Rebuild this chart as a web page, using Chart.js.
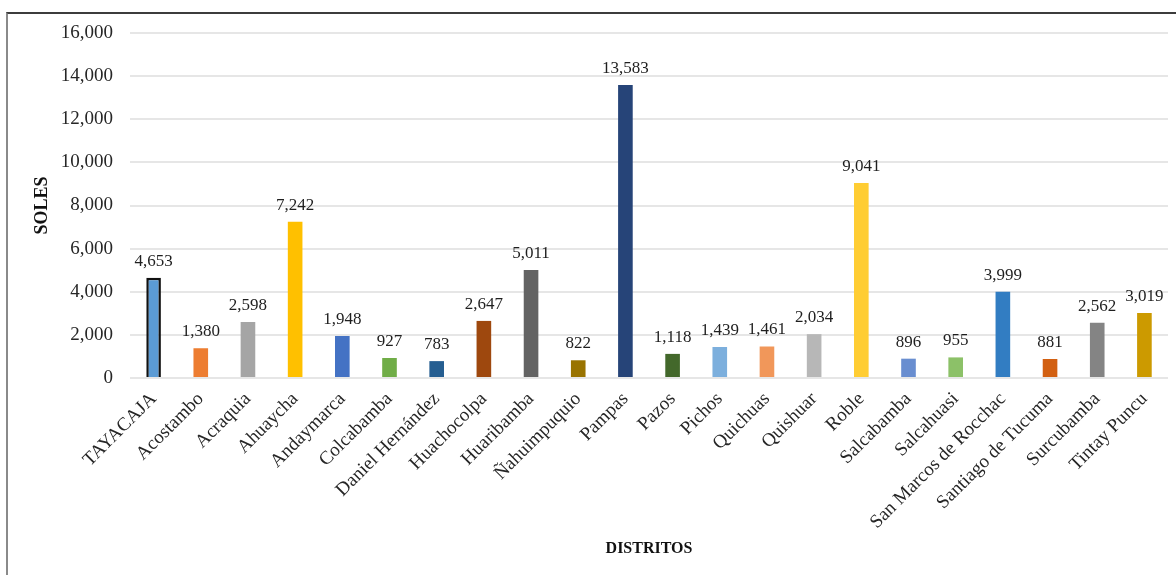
<!DOCTYPE html>
<html>
<head>
<meta charset="utf-8">
<script src="https://cdn.jsdelivr.net/npm/chart.js@4/dist/chart.umd.min.js"></script>
<style>
  html, body { margin: 0; padding: 0; background: #fff; }
  #wrap { position: relative; width: 1176px; height: 575px; overflow: hidden; }
  #frame { position: absolute; left: 6px; top: 12px; right: -4px; bottom: -4px;
           border-top: 2px solid #3c3c3c; border-left: 2px solid #8a8a8a; }
  canvas { position: absolute; left: 0; top: 0; }
</style>
</head>
<body>
<div id="wrap">
  <div id="frame"></div>
  <canvas id="canvas" width="1176" height="575"></canvas>
</div>
<script>
'use strict';

// distritos (eje X)
var distritos = ['TAYACAJA', 'Acostambo', 'Acraquia', 'Ahuaycha', 'Andaymarca', 'Colcabamba',
	'Daniel Hernández', 'Huachocolpa', 'Huaribamba', 'Ñahuimpuquio', 'Pampas', 'Pazos',
	'Pichos', 'Quichuas', 'Quishuar', 'Roble', 'Salcabamba', 'Salcahuasi',
	'San Marcos de Rocchac', 'Santiago de Tucuma', 'Surcubamba', 'Tintay Puncu'];

// soles por distrito
var soles = [4653, 1380, 2598, 7242, 1948, 927, 783, 2647, 5011, 822, 13583, 1118,
	1439, 1461, 2034, 9041, 896, 955, 3999, 881, 2562, 3019];

var colores = ['#5B9BD5', '#ED7D31', '#A5A5A5', '#FFC000', '#4472C4', '#70AD47',
	'#255E91', '#9E480E', '#636363', '#997300', '#264478', '#43682B',
	'#7CAFDD', '#F1975A', '#B7B7B7', '#FFCD33', '#698ED0', '#8CC168',
	'#327DC2', '#D26012', '#848484', '#CC9A00'];

var yMin = 0, yMax = 16000, yStep = 2000;

var serif = '"Liberation Serif", "Times New Roman", serif';

function fmt(v) {
	return Number(v).toLocaleString('en-US');
}

// etiquetas de valor encima de cada barra
var etiquetas = {
	id: 'etiquetas',
	afterDatasetsDraw: function(chart) {
		var ctx = chart.ctx;
		var meta = chart.getDatasetMeta(0);
		ctx.save();
		ctx.font = '17px ' + serif;
		ctx.fillStyle = '#1f1f1f';
		ctx.textAlign = 'center';
		ctx.textBaseline = 'bottom';
		meta.data.forEach(function(bar, i) {
			ctx.fillText(fmt(soles[i]), bar.x, bar.y - 8);
		});
		ctx.restore();
	}
};

window.onload = function() {
	var ctx = document.getElementById('canvas').getContext('2d');
	window.myBar = new Chart(ctx, {
		type: 'bar',
		data: {
			labels: distritos,
			datasets: [{
				label: 'Soles',
				data: soles,
				backgroundColor: colores,
				borderColor: soles.map(function(v, i) { return i === 0 ? '#111' : colores[i]; }),
				borderWidth: soles.map(function(v, i) { return i === 0 ? 2.5 : 0; }),
				categoryPercentage: 1,
				barPercentage: 0.31
			}]
		},
		options: {
			responsive: false,
			animation: false,
			layout: { padding: { left: 28, right: 8, top: 33, bottom: 0 } },
			plugins: {
				legend: { display: false },
				tooltip: { enabled: false }
			},
			scales: {
				x: {
					grid: { display: false, drawTicks: false },
					border: { display: false },
					ticks: {
						autoSkip: false,
						minRotation: 45,
						maxRotation: 45,
						padding: 10,
						color: '#262626',
						font: { family: serif, size: 19 }
					},
					title: {
						display: true,
						text: 'DISTRITOS',
						color: '#111',
						padding: { top: 0, bottom: 17 },
						font: { family: serif, size: 16, weight: 'bold' }
					},
					afterFit: function(scale) { scale.height = 197; }
				},
				y: {
					min: yMin,
					max: yMax,
					grid: { color: '#e6e6e6', lineWidth: 2, drawTicks: false },
					border: { display: false },
					ticks: {
						stepSize: yStep,
						padding: 17,
						color: '#262626',
						font: { family: serif, size: 19 },
						callback: function(v) { return fmt(v); }
					},
					title: {
						display: true,
						text: 'SOLES',
						color: '#111',
						padding: { top: 4, bottom: 0 },
						font: { family: serif, size: 18, weight: 'bold' }
					},
					afterFit: function(scale) { scale.width = 102; }
				}
			}
		},
		plugins: [etiquetas]
	});
};
</script>
</body>
</html>
